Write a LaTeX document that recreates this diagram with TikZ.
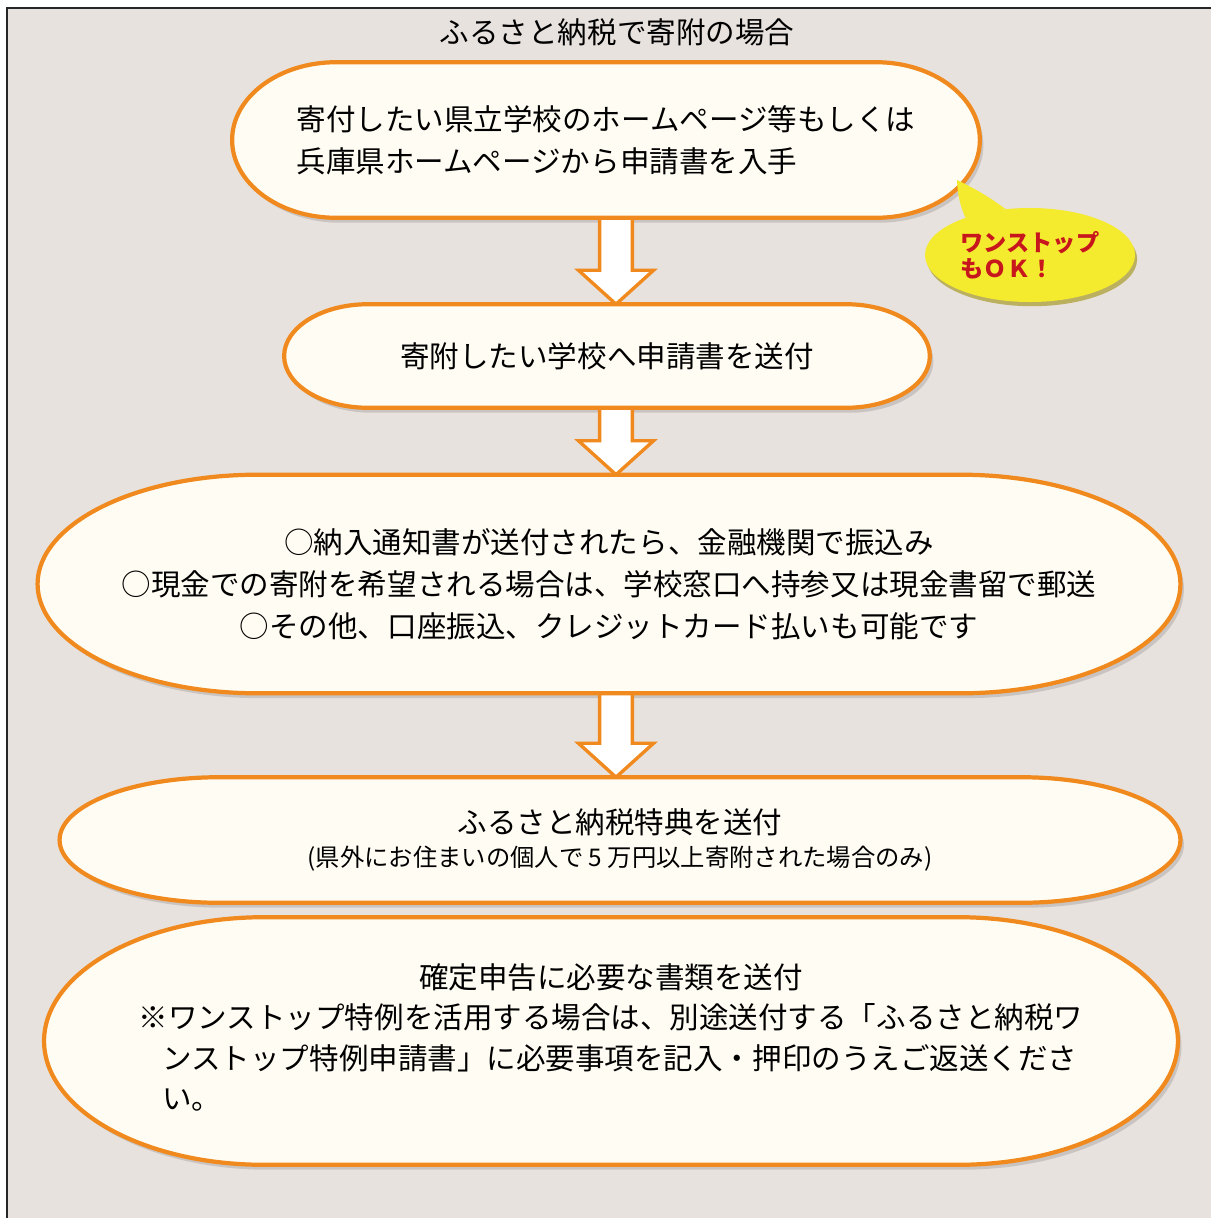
\documentclass[tikz,border=0pt]{standalone}
\usepackage{fontspec}
\setmainfont{Noto Sans CJK JP}
\usetikzlibrary{calc, shapes.geometric, backgrounds}

\definecolor{paper}{HTML}{E8E2DE}
\definecolor{cream}{HTML}{FFFDF3}
\definecolor{boxorange}{HTML}{F08A1E}
\definecolor{okred}{HTML}{C8161D}
\definecolor{bubbleyellow}{HTML}{F4EA2E}
\definecolor{bubbleedge}{HTML}{A89B2A}

% outline of a step box with elliptic ends: node, end radius (cm), dx, dy
\newcommand\capsulepath[4]{%
  let \p1=(#1.north west), \p2=(#1.south east), \n1={(\y1-\y2)/2} in
  (\x1+#2cm+#3,\y1+#4) -- (\x2-#2cm+#3,\y1+#4)
  arc[start angle=90, end angle=-90, x radius=#2cm, y radius=\n1]
  -- (\x1+#2cm+#3,\y2+#4)
  arc[start angle=270, end angle=90, x radius=#2cm, y radius=\n1] -- cycle}

% hollow down arrow from one step to the next, on the axis (ax)
\newcommand\downarrowpath[2]{%
  let \p1=(#1.south), \p2=(#2.north), \p3=(ax) in
  (\x3-0.41cm,\y1+0.2cm) -- (\x3-0.41cm,\y2+0.85cm) -- (\x3-0.94cm,\y2+0.85cm)
  -- (\x3,\y2) -- (\x3+0.94cm,\y2+0.85cm) -- (\x3+0.41cm,\y2+0.85cm)
  -- (\x3+0.41cm,\y1+0.2cm)}

\tikzset{
  stepnode/.style={inner sep=0pt, font=\fontsize{21}{30}\selectfont},
  capsule/.style={draw=boxorange, line width=3pt, fill=cream},
  capshadow/.style={fill=black, opacity=0.13},
  hollow/.style={draw=boxorange, line width=2.4pt, fill=white, line join=miter},
  bubble/.style={ellipse, inner sep=0pt, minimum width=5.25cm, minimum height=2.35cm,
    fill=bubbleyellow, text=okred, align=left,
    font=\fontsize{16.5}{18.5}\selectfont\bfseries},
}

\begin{document}
\begin{tikzpicture}[x=0.025cm, y=-0.025cm]
  \useasboundingbox (0,0) rectangle (1211,1218);
  \coordinate (ax) at (616,0);
  \coordinate (tailtip) at (957,180);

  \node[font=\fontsize{21}{25}\selectfont] (title) at (617,32) {ふるさと納税で寄附の場合};

  \node[stepnode, minimum width=18.675cm, minimum height=3.875cm, align=left] (b1) at (606,140)
    {寄付したい県立学校のホームページ等もしくは\\兵庫県ホームページから申請書を入手};
  \node[stepnode, minimum width=16.125cm, minimum height=2.575cm] (b2) at (607,356)
    {寄附したい学校へ申請書を送付};
  \node[stepnode, minimum width=28.55cm, minimum height=5.45cm, align=center] (b3) at (609,584)
    {○納入通知書が送付されたら、金融機関で振込み\\
     ○現金での寄附を希望される場合は、学校窓口へ持参又は現金書留で郵送\\
     ○その他、口座振込、クレジットカード払いも可能です};
  \node[stepnode, minimum width=28cm, minimum height=3.125cm, align=center,
        font=\fontsize{21}{23.5}\selectfont] (b4) at (620,840)
    {ふるさと納税特典を送付\\
     {\fontsize{17.3}{23.5}\selectfont (県外にお住まいの個人で 5 万円以上寄附された場合のみ)}};
  \node[stepnode, minimum width=28.325cm, minimum height=6.175cm,
        font=\fontsize{21}{28.5}\selectfont] (b5) at (611,1041)
    {\begin{tabular}{@{}l@{}}
      \multicolumn{1}{@{}c@{}}{確定申告に必要な書類を送付}\\
      ※ワンストップ特例を活用する場合は、別途送付する「ふるさと納税ワ\\
      \hspace*{0.8em}ンストップ特例申請書」に必要事項を記入・押印のうえご返送くださ\\
      \hspace*{0.8em}い。
     \end{tabular}};

  \node[bubble] (onestop) at (1030,255) {ワンストップ\\もＯＫ！};

  \begin{scope}[on background layer]
    \fill[white] (-5,-5) rectangle (1225,1230);
    \fill[paper] (7,8) rectangle (1225,1230);
    \draw[line width=1.1pt, black!85] (7,1230) -- (7,8) -- (1225,8);
    % shadows
    \foreach \bx/\r in {b1/2.6, b2/2.1, b3/5.5, b4/4.0, b5/5.5}
      \fill[capshadow] \capsulepath{\bx}{\r}{2.5pt}{-3.5pt};
    \fill[bubbleedge, opacity=0.7] ([xshift=1.5pt, yshift=-3pt]onestop.center)
      ellipse [x radius=2.625cm, y radius=1.175cm];
    % arrows
    \foreach \a/\b in {b1/b2, b2/b3, b3/b4}
      \filldraw[hollow] \downarrowpath{\a}{\b};
    % boxes
    \foreach \bx/\r in {b1/2.6, b2/2.1, b3/5.5, b4/4.0, b5/5.5}
      \filldraw[capsule] \capsulepath{\bx}{\r}{0pt}{0pt};
    % bubble tail
    \fill[bubbleyellow] (onestop.150) to[bend left=10] (tailtip) to[bend left=5] (onestop.118) -- cycle;
  \end{scope}
\end{tikzpicture}
\end{document}
